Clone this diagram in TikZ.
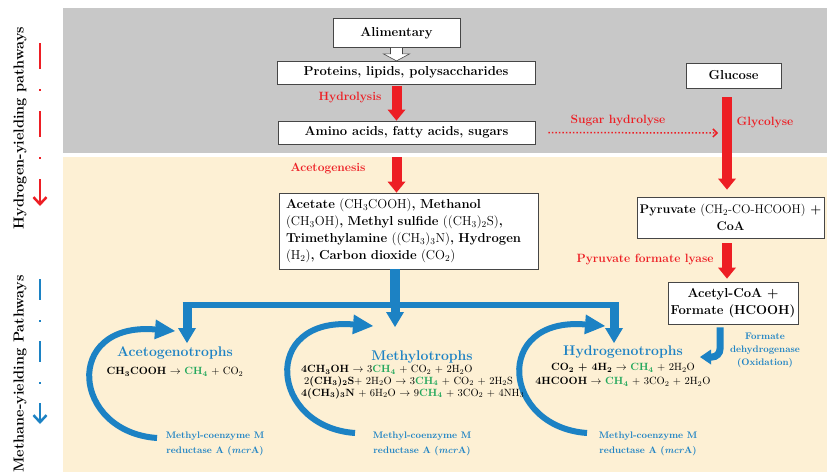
\documentclass[tikz,border=0pt]{standalone}
\usetikzlibrary{positioning,arrows.meta,calc}
\definecolor{panelgray}{RGB}{200,200,200}
\definecolor{panelbeige}{RGB}{253,240,212}
\definecolor{hred}{RGB}{237,30,36}
\definecolor{mblue}{RGB}{28,130,196}
\definecolor{mgreen}{RGB}{34,168,92}
\definecolor{boxline}{RGB}{70,70,70}
\newcommand{\sbs}[1]{\textsubscript{#1}}
\newcommand{\methane}{\textcolor{mgreen}{\textbf{CH\sbs{4}}}}
\newcommand{\toarrow}{$\rightarrow$}
\tikzset{
  box/.style={draw=boxline, fill=white, line width=0.8pt, inner sep=2pt, font=\fontsize{13}{17}\selectfont\bfseries},
  stage/.style={text=hred, font=\fontsize{12}{14}\selectfont\bfseries},
  group/.style={text=mblue, font=\fontsize{14}{16}\selectfont\bfseries},
  enzyme/.style={text=mblue, align=center, font=\fontsize{9.5}{15}\selectfont\bfseries},
  eqn/.style={font=\fontsize{10.5}{13}\selectfont, inner sep=0pt},
  side/.style={rotate=90, font=\fontsize{14.5}{16}\selectfont\bfseries},
  redarrow/.style={draw=hred, line width=10pt, -{Triangle[length=11pt,width=18pt,line width=0pt]}},
  bluearrow/.style={draw=mblue, line width=9pt, -{Triangle[length=15pt,width=18pt,line width=0pt]}},
  bluecurve/.style={draw=mblue, line width=6pt, -{Triangle[length=20pt,width=20pt,line width=0pt]}},
  bluehook/.style={draw=mblue, line width=7pt, rounded corners=8pt, -{Triangle[length=11pt,width=15pt,line width=0pt]}},
  sugardot/.style={draw=hred, line width=1.5pt, dotted, -{Straight Barb[length=4pt,width=8pt]}}
}
\begin{document}
\begin{tikzpicture}[x=1pt,y=-1pt]
\useasboundingbox (0,0) rectangle (827,472);
\fill[white] (0,0) rectangle (827,472);
\fill[panelgray] (63,8) rectangle (827,153);
\fill[panelbeige] (63,157) rectangle (827,472);

\node[side] (hlabel) at (20,128) {Hydrogen-yielding pathways};
\node[side] (mlabel) at (20,374) {Methane-yielding Pathways};
\coordinate (hstart) at (40,43);
\coordinate (hend) at (40,206);
\coordinate (mstart) at (40,279);
\coordinate (mend) at (40,424);
\draw[hred, line width=2.5pt, dash pattern=on 26pt off 20pt on 2pt off 20pt, -{Straight Barb[length=7pt,width=13pt]}] (hstart) -- (hend);
\draw[mblue, line width=2.5pt, dash pattern=on 21pt off 20pt on 2pt off 19pt, -{Straight Barb[length=7pt,width=13pt]}] (mstart) -- (mend);

\node[box, minimum width=127pt, minimum height=29pt] (alim) at (396.5,33) {Alimentary};
\node[box, minimum width=258pt, minimum height=23pt] (prot) at (406,72.5) {Proteins, lipids, polysaccharides};
\node[box, minimum width=257pt, minimum height=23pt] (amino) at (406.5,132.5) {Amino acids, fatty acids, sugars};
\node[box, minimum width=95pt, minimum height=25pt] (glucose) at (733.5,75.5) {Glucose};
\node[box, text width=245pt, inner xsep=7pt, align=left, minimum height=76pt] (acetate) at (408.5,231)
  {Acetate {\mdseries(CH\sbs{3}COOH)}, Methanol\\
   {\mdseries(CH\sbs{3}OH)}, Methyl sulfide {\mdseries((CH\sbs{3})\sbs{2}S)},\\
   Trimethylamine {\mdseries((CH\sbs{3})\sbs{3}N)}, Hydrogen\\
   {\mdseries(H\sbs{2})}, Carbon dioxide {\mdseries(CO\sbs{2})}};
\node[box, align=center, minimum width=187pt, minimum height=41pt, font=\fontsize{12.5}{17}\selectfont\bfseries] (pyruvate) at (730.5,217.5) {Pyruvate {\mdseries(CH\sbs{2}-CO-HCOOH)} +\\CoA};
\node[box, align=center, minimum width=130pt, minimum height=42pt] (acetyl) at (733,303) {Acetyl-CoA +\\Formate (HCOOH)};

\draw[boxline, fill=white, line width=0.6pt] ($(alim.south)+(-6,0)$) -- ++(0,6) -- ++(-7,0) -- ($(alim.south)+(0,13)$) -- ++(13,-7) -- ++(-7,0) -- ++(0,-6);

\node[stage] (hydrolysis) at (350,98) {Hydrolysis};
\node[stage] (sugarhyd) at (618,121) {Sugar hydrolyse};
\node[stage] (glycolyse) at (765,123) {Glycolyse};
\node[stage] (acetogenesis) at (328,169) {Acetogenesis};
\node[stage, anchor=east] (pfl) at (717,259) {Pyruvate formate lyase};

\coordinate (glyc) at (727,190);
\coordinate (sugarend) at (718,133);
\draw[redarrow, shorten <=2pt] (prot.south -| alim) -- (amino.north -| alim);
\draw[redarrow, shorten <=13pt] (amino.south -| alim) -- (acetate.north -| alim);
\draw[redarrow, shorten <=9pt, shorten >=7pt] (glucose.south -| glyc) -- (pyruvate.north -| glyc);
\draw[redarrow, shorten <=5pt, shorten >=3pt] (pyruvate.south -| glyc) -- (acetyl.north -| glyc);
\draw[sugardot, shorten <=13pt] (amino.east) -- (sugarend);

\coordinate (hub) at (395,305);
\coordinate (barL) at (187,305);
\coordinate (barR) at (614,305);
\coordinate (tipA) at (187,343);
\coordinate (tipM) at (395,327);
\coordinate (tipH) at (614,343);
\draw[mblue, line width=10pt] (acetate.south -| hub) -- (hub);
\draw[mblue, line width=5.5pt] ($(barL)+(-4.5,0)$) -- ($(barR)+(4.5,0)$);
\foreach \a/\b in {barL/tipA, hub/tipM, barR/tipH}
  \draw[bluearrow] (\a) -- (\b);

\foreach \dx/\dy in {0/0, 198/-5, 430/-5}
  \draw[bluecurve, shift={(\dx,\dy)}] (157,438) .. controls (72,432) and (62,322) .. (175,331);

\coordinate (hooktip) at (700,357);
\draw[bluehook] ($(acetyl.south)+(-13,3)$) |- (hooktip);
\node[enzyme, font=\fontsize{9.5}{13}\selectfont\bfseries] (fdh) at (765,350) {Formate\\dehydrogenase\\(Oxidation)};

\node[group] (acetog) at (175,353) {Acetogenotrophs};
\node[eqn] (acetogeq) at (175,372) {\textbf{CH\sbs{3}COOH} \toarrow{} \methane{} + CO\sbs{2}};

\node[group] (methylo) at (422,357) {Methylotrophs};
\node[eqn, align=left, anchor=north west, font=\fontsize{10.5}{11.7}\selectfont] (methyloeq) at (301,365)
  {\textbf{4CH\sbs{3}OH} \toarrow{} 3\methane{} + CO\sbs{2} + 2H\sbs{2}O\\
   \hspace*{3pt}2\textbf{(CH\sbs{3})\sbs{2}S}+ 2H\sbs{2}O \toarrow{} 3\methane{} + CO\sbs{2} + 2H\sbs{2}S\\
   \textbf{4(CH\sbs{3})\sbs{3}N} + 6H\sbs{2}O \toarrow{} 9\methane{} + 3CO\sbs{2} + 4NH\sbs{3}};

\node[group] (hydrog) at (623,352) {Hydrogenotrophs};
\node[eqn, align=center, font=\fontsize{10.5}{14}\selectfont] (hydrogeq) at (623,375)
  {\textbf{CO\sbs{2} + 4H\sbs{2}} \toarrow{} \methane{} + 2H\sbs{2}O\\
   \textbf{4HCOOH} \toarrow{} \methane{} + 3CO\sbs{2} + 2H\sbs{2}O};

\foreach \x in {215,422,648}
  \node[enzyme] (enz\x) at (\x,444) {Methyl-coenzyme M\\reductase A (\textit{mcr}A)};
\end{tikzpicture}
\end{document}
